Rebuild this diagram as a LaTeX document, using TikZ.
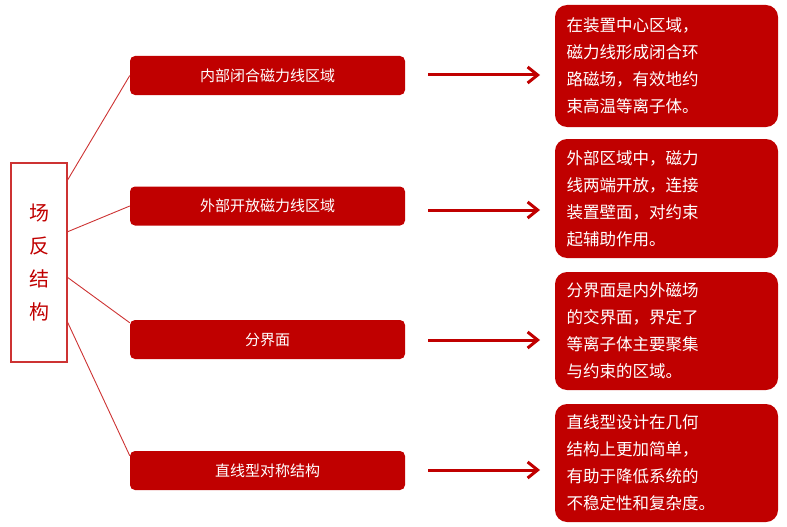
\documentclass[tikz,border=0pt]{standalone}
\usepackage{fontspec}
\setmainfont{Noto Sans CJK SC}
\usetikzlibrary{arrows.meta}
\definecolor{dred}{RGB}{192,0,0}
\begin{document}
\begin{tikzpicture}[x=1pt,y=-1pt,
 mid/.style={fill=dred,rounded corners=5pt,minimum width=275pt,minimum height=39pt,text=white,font=\fontsize{15}{18}\selectfont,inner sep=0pt},
 rbox/.style={fill=dred,rounded corners=12pt,minimum width=223pt,text=white,font=\fontsize{16.5}{27}\selectfont,align=left,text width=200pt,inner sep=0pt},
 link/.style={draw=dred!80,line width=0.9pt},
 arr/.style={draw=dred,line width=3pt,-{Straight Barb[length=10pt,width=16pt,line width=3pt]}}]
\useasboundingbox (0,0) rectangle (787,527);
\node[draw=dred!80,line width=1.2pt,minimum width=56pt,minimum height=199pt,text=dred,font=\fontsize{20}{33}\selectfont,align=center,inner sep=0pt] (L) at (39,262.5) {场\\反\\结\\构};
\node[mid] (m1) at (267.5,75.5) {内部闭合磁力线区域};
\node[mid] (m2) at (267.5,206) {外部开放磁力线区域};
\node[mid] (m3) at (267.5,339.5) {分界面};
\node[mid] (m4) at (267.5,470.5) {直线型对称结构};
\node[rbox,minimum height=122pt] (r1) at (666.5,66) {在装置中心区域，\\磁力线形成闭合环\\路磁场，有效地约\\束高温等离子体。};
\node[rbox,minimum height=119pt] (r2) at (666.5,198.5) {外部区域中，磁力\\线两端开放，连接\\装置壁面，对约束\\起辅助作用。};
\node[rbox,minimum height=118pt] (r3) at (666.5,331) {分界面是内外磁场\\的交界面，界定了\\等离子体主要聚集\\与约束的区域。};
\node[rbox,minimum height=118pt] (r4) at (666.5,463) {直线型设计在几何\\结构上更加简单，\\有助于降低系统的\\不稳定性和复杂度。};
\coordinate (a1) at (67,181); \coordinate (a2) at (67,232);
\coordinate (a3) at (67,277); \coordinate (a4) at (67,321);
\draw[link] (a1) -- (m1.west);
\draw[link] (a2) -- (m2.west);
\draw[link] (a3) -- ([yshift=-3pt]m3.north west);
\draw[link] (a4) -- ([yshift=-5pt]m4.north west);
\foreach \i/\y in {1/75,2/210,3/340,4/470}{
 \coordinate (s\i) at (428,\y); \coordinate (e\i) at (540,\y);
 \draw[arr] (s\i) -- (e\i);}
\end{tikzpicture}
\end{document}
